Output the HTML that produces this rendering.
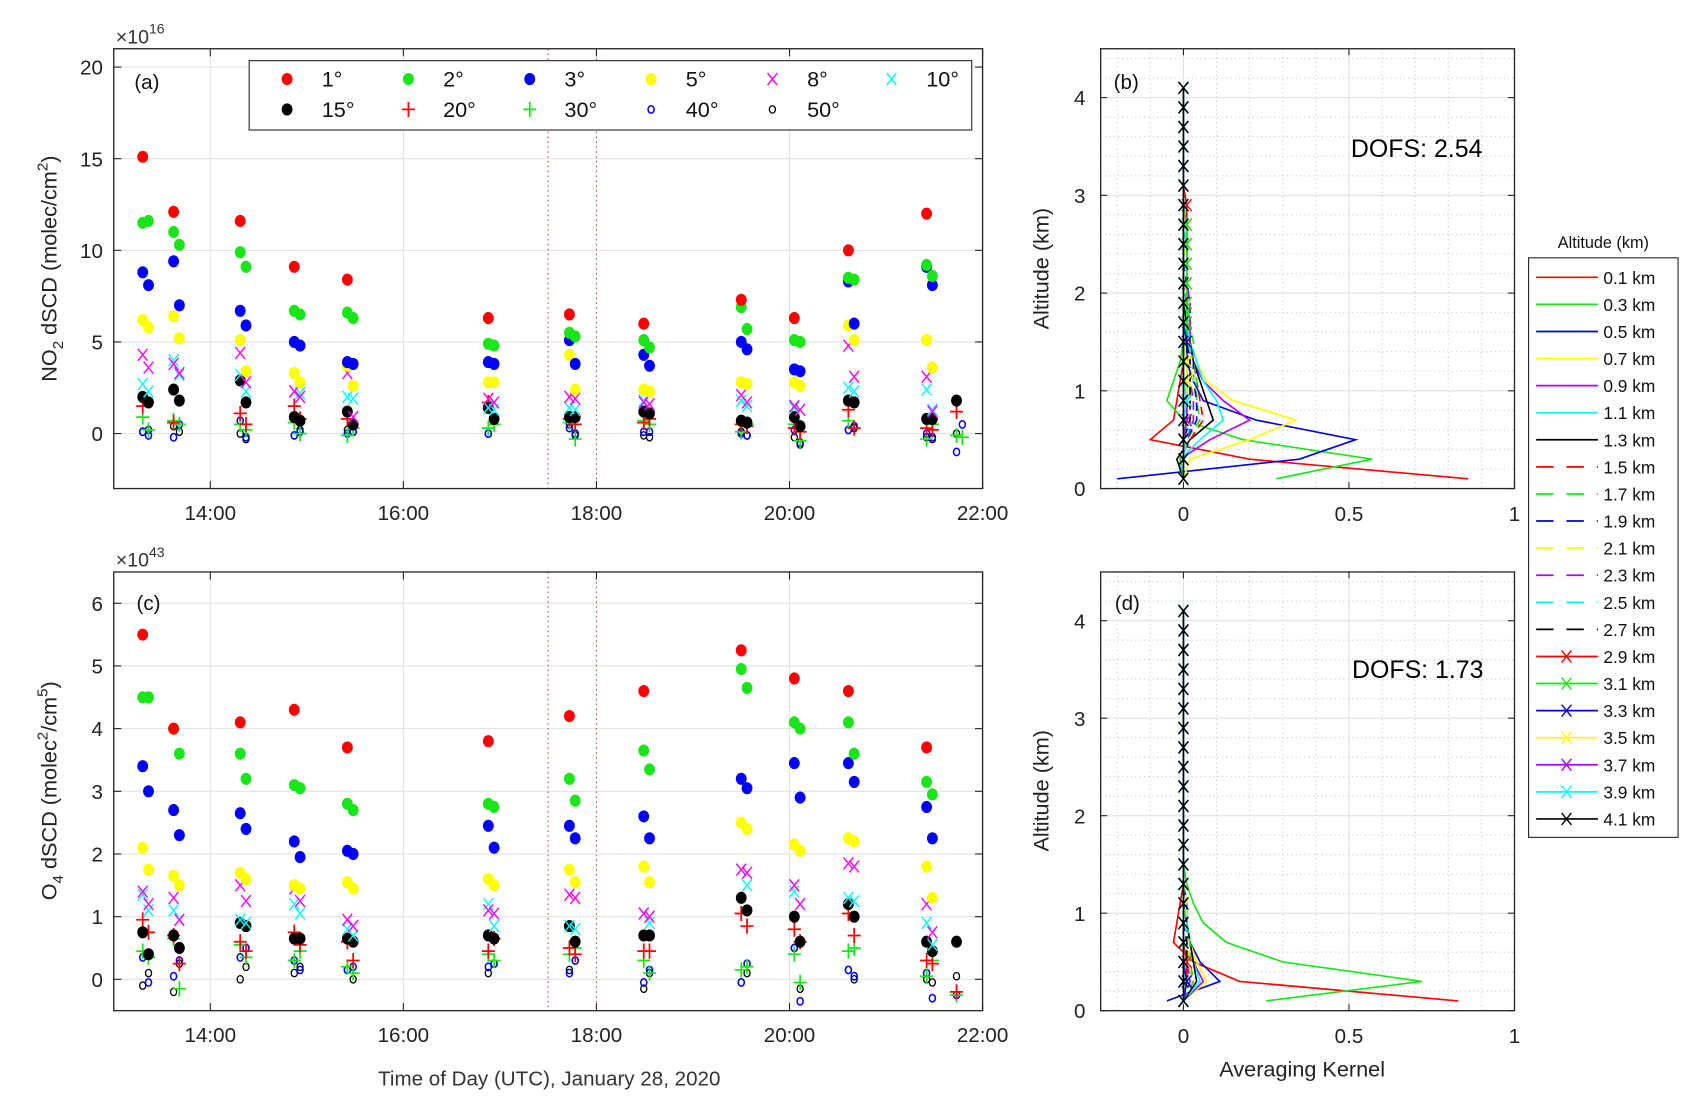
<!DOCTYPE html>
<html><head><meta charset="utf-8"><style>
html,body{margin:0;padding:0;background:#fff;}
svg{display:block;font-family:"Liberation Sans",sans-serif;}
</style></head><body>
<svg id="fig" width="1690" height="1106" viewBox="0 0 1560 1021" preserveAspectRatio="none" xmlns="http://www.w3.org/2000/svg"></svg>
<script>
// ---------- DATA ----------
const scanTimes=[13.33,13.65,14.34,14.90,15.45,16.91,17.75,18.52,19.53,20.08,20.64,21.45,21.76];
const passOffsetHours=[-0.03,0.03];
const angleLabels=['1°','2°','3°','5°','8°','10°','15°','20°','30°','40°','50°'];
// NO2 dSCD (x1e16), two passes per scan
const no2_1=[[15.1,null],[12.1,null],[11.6,null],[9.1,null],[8.4,null],[6.3,null],[6.5,null],[6.0,null],[7.3,null],[6.3,null],[10.0,null],[12.0,null],[null,null]];
const no2_2=[[11.5,11.6],[11.0,10.3],[9.9,9.1],[6.7,6.5],[6.6,6.3],[4.9,4.8],[5.5,5.3],[5.1,4.7],[6.9,5.7],[5.1,5.0],[8.5,8.4],[9.2,8.6],[null,null]];
const no2_3=[[8.8,8.1],[9.4,7.0],[6.7,5.9],[5.0,4.8],[3.9,3.8],[3.9,3.8],[5.1,3.8],[4.3,3.7],[5.0,4.6],[3.5,3.4],[8.3,6.0],[9.1,8.1],[null,null]];
const no2_5=[[6.2,5.8],[6.4,5.2],[5.1,3.4],[3.3,2.8],[3.7,2.6],[2.8,2.8],[4.3,2.4],[2.4,2.3],[2.8,2.7],[2.8,2.6],[5.9,5.1],[5.1,3.6],[null,null]];
const no2_8=[[4.3,3.6],[3.8,3.3],[4.4,2.8],[2.3,2.0],[3.3,0.9],[1.9,1.7],[2.0,1.9],[1.7,1.6],[2.1,1.7],[1.5,1.3],[4.8,3.1],[3.1,1.2],[null,null]];
const no2_10=[[2.7,2.3],[4.0,3.2],[3.2,2.3],[2.3,2.2],[2.0,1.9],[1.4,1.3],[1.4,1.3],[1.8,1.6],[1.8,1.5],[1.4,1.3],[2.5,2.3],[2.4,1.3],[null,null]];
const no2_15=[[2.0,1.7],[2.4,1.8],[2.9,1.7],[0.9,0.7],[1.2,0.5],[1.4,0.8],[0.9,0.9],[1.2,1.1],[0.7,0.6],[0.9,0.4],[1.8,1.7],[0.8,0.8],[1.8,null]];
const no2_20=[[1.5,null],[0.6,null],[1.1,0.5],[1.5,0.8],[0.8,null],[1.7,null],[0.8,0.5],[0.6,0.8],[0.5,0.4],[0.3,0.1],[1.3,0.3],[0.3,0.2],[1.2,null]];
const no2_30=[[0.9,0.2],[0.7,0.5],[0.5,0.2],[0.6,0.0],[-0.1,0.3],[0.3,0.5],[0.6,-0.3],[0.7,0.5],[0.1,0.5],[0.5,-0.4],[0.7,null],[-0.3,0.5],[-0.1,-0.2]];
const no2_40=[[0.1,-0.1],[-0.2,0.5],[0.7,-0.2],[-0.1,0.1],[0.0,0.1],[0.0,0.9],[0.3,0.0],[0.1,0.1],[0.0,-0.1],[0.2,-0.5],[0.2,0.4],[0.0,-0.2],[-1.0,0.5]];
const no2_50=[[0.1,0.2],[0.4,0.1],[0.0,-0.3],[-0.1,0.2],[0.2,0.1],[0.0,0.8],[0.5,-0.1],[-0.1,-0.2],[0.1,-0.1],[-0.2,-0.6],[0.2,0.3],[-0.2,-0.3],[0.0,null]];
// O4 dSCD (x1e43)
const o4_1=[[5.5,null],[4.0,null],[4.1,null],[4.3,null],[3.7,null],[3.8,null],[4.2,null],[4.6,null],[5.25,null],[4.8,null],[4.6,null],[3.7,null],[null,null]];
const o4_2=[[4.5,4.5],[4.0,3.6],[3.6,3.2],[3.1,3.05],[2.8,2.7],[2.8,2.75],[3.2,2.85],[3.65,3.35],[4.95,4.65],[4.1,4.0],[4.1,3.6],[3.15,2.95],[null,null]];
const o4_3=[[3.4,3.0],[2.7,2.3],[2.65,2.4],[2.2,1.95],[2.05,2.0],[2.45,2.1],[2.45,2.25],[2.6,2.25],[3.2,3.05],[3.45,2.9],[3.45,3.15],[2.75,2.25],[null,null]];
const o4_5=[[2.1,1.75],[1.65,1.5],[1.7,1.6],[1.5,1.45],[1.55,1.45],[1.6,1.5],[1.75,1.55],[1.8,1.55],[2.5,2.4],[2.15,2.05],[2.25,2.2],[1.8,1.3],[null,null]];
const o4_8=[[1.4,1.2],[1.3,0.95],[1.5,1.25],[1.45,1.25],[0.95,0.85],[1.1,1.05],[1.35,1.3],[1.05,1.0],[1.75,1.7],[1.5,1.2],[1.85,1.8],[1.2,0.75],[null,null]];
const o4_10=[[1.35,1.1],[1.1,0.95],[0.95,0.9],[1.2,1.05],[0.8,0.7],[1.2,0.85],[0.85,0.8],[1.05,0.9],[1.75,1.5],[1.4,1.2],[1.3,1.25],[0.9,0.55],[null,null]];
const o4_15=[[0.75,0.4],[0.7,0.5],[0.9,0.85],[0.65,0.65],[0.65,0.6],[0.7,0.65],[0.85,0.6],[0.7,0.7],[1.3,1.1],[1.0,0.6],[1.2,1.0],[0.6,0.45],[0.6,null]];
const o4_20=[[0.95,0.75],[0.7,0.25],[0.6,0.45],[0.75,0.55],[0.6,0.3],[0.45,0.65],[0.5,0.4],[0.45,0.45],[1.05,0.85],[0.8,0.6],[1.05,0.7],[0.3,0.25],[-0.2,null]];
const o4_30=[[0.45,0.35],[0.65,-0.15],[0.55,0.35],[0.3,0.45],[0.2,0.1],[0.4,0.3],[0.4,0.5],[0.3,0.1],[0.15,0.2],[0.4,-0.05],[0.45,0.5],[0.05,0.3],[-0.25,null]];
const o4_40=[[0.35,-0.05],[0.05,0.3],[0.35,0.5],[0.3,0.15],[0.15,0.2],[0.2,0.25],[0.1,0.3],[-0.05,0.15],[-0.05,0.25],[0.5,-0.35],[0.15,0.05],[0.1,-0.3],[-0.25,null]];
const o4_50=[[-0.1,0.1],[-0.2,0.25],[0.0,0.2],[0.1,0.2],[0.15,0.0],[0.1,0.25],[0.15,0.3],[-0.15,0.1],[-0.05,0.1],[0.5,-0.15],[0.15,0.0],[0.0,-0.05],[0.05,null]];
const no2Series=[no2_1,no2_2,no2_3,no2_5,no2_8,no2_10,no2_15,no2_20,no2_30,no2_40,no2_50];
const o4Series=[o4_1,o4_2,o4_3,o4_5,o4_8,o4_10,o4_15,o4_20,o4_30,o4_40,o4_50];
const timeTicks=[14,16,18,20,22];
const timeTickLabels=['14:00','16:00','18:00','20:00','22:00'];
const no2Ticks=[0,5,10,15,20];
const o4Ticks=[0,1,2,3,4,5,6];
const gapLines=[17.5,18.0];

// Averaging kernels: rows = retrieval level, cols = altitude level
const akAltitudes=[0.1,0.3,0.5,0.7,0.9,1.1,1.3,1.5,1.7,1.9,2.1,2.3,2.5,2.7,2.9,3.1,3.3,3.5,3.7,3.9,4.1];
const akLabels=['0.1 km','0.3 km','0.5 km','0.7 km','0.9 km','1.1 km','1.3 km','1.5 km','1.7 km','1.9 km','2.1 km','2.3 km','2.5 km','2.7 km','2.9 km','3.1 km','3.3 km','3.5 km','3.7 km','3.9 km','4.1 km'];
const akB=[
[0.86,0.2,-0.1,-0.03,-0.02,-0.01,0,0,0,0,0,0,0,0,0,0,0,0,0,0,0],
[0.28,0.57,0.18,0.0,-0.05,-0.03,-0.01,0,0,0,0,0,0,0,0,0,0,0,0,0,0],
[-0.2,0.35,0.52,0.22,0.06,0.03,0.01,0,0,0,0,0,0,0,0,0,0,0,0,0,0],
[0.0,0.02,0.2,0.34,0.15,0.07,0.04,0.02,0.01,0,0,0,0,0,0,0,0,0,0,0,0],
[0,-0.01,0.08,0.2,0.12,0.06,0.03,0.02,0.01,0,0,0,0,0,0,0,0,0,0,0,0],
[0,-0.01,0.05,0.12,0.1,0.06,0.04,0.02,0.01,0,0,0,0,0,0,0,0,0,0,0,0],
[0,-0.02,0.02,0.09,0.07,0.05,0.03,0.02,0.01,0,0,0,0,0,0,0,0,0,0,0,0],
[0,-0.01,0.02,0.06,0.05,0.04,0.03,0.02,0.02,0.01,0,0,0,0,0,0,0,0,0,0,0],
[0,-0.01,0.01,0.05,0.04,0.04,0.03,0.03,0.02,0.01,0,0,0,0,0,0,0,0,0,0,0],
[0,0,0.01,0.04,0.04,0.03,0.03,0.02,0.02,0.02,0.01,0,0,0,0,0,0,0,0,0,0],
[0,0,0.01,0.03,0.03,0.03,0.02,0.02,0.02,0.02,0.01,0.01,0,0,0,0,0,0,0,0,0],
[0,0,0.01,0.03,0.03,0.02,0.02,0.02,0.02,0.02,0.01,0.01,0.01,0,0,0,0,0,0,0,0],
[0,0,0.01,0.02,0.02,0.02,0.02,0.02,0.01,0.01,0.01,0.01,0.01,0,0,0,0,0,0,0,0],
[0,0,0,0.02,0.02,0.02,0.02,0.01,0.01,0.01,0.01,0.01,0.01,0.01,0,0,0,0,0,0,0],
[0,0,0,0.01,0.01,0.01,0.01,0.01,0.01,0.01,0.01,0.01,0.01,0.01,0.01,0,0,0,0,0,0],
[0,0,0,0.01,0.01,0.01,0.01,0.01,0.01,0.01,0.01,0.01,0.01,0.01,0,0,0,0,0,0,0],
[0,0,0,0.01,0.01,0.01,0.01,0.01,0,0,0,0,0,0,0,0,0,0,0,0,0],
[0,0,0,0.01,0.01,0.01,0.01,0,0,0,0,0,0,0,0,0,0,0,0,0,0],
[0,0,0,0.01,0.01,0,0,0,0,0,0,0,0,0,0,0,0,0,0,0,0],
[0,0,0,0,0.01,0,0,0,0,0,0,0,0,0,0,0,0,0,0,0,0],
[0,0,0,0,0,0,0,0,0,0,0,0,0,0,0,0,0,0,0,0,0]];
const akD=[
[0.83,0.17,0.03,-0.03,-0.02,-0.01,0,0,0,0,0,0,0,0,0,0,0,0,0,0,0],
[0.25,0.72,0.3,0.13,0.06,0.03,0.01,0,0,0,0,0,0,0,0,0,0,0,0,0,0],
[-0.05,0.11,0.05,0.02,0.01,0.01,0,0,0,0,0,0,0,0,0,0,0,0,0,0,0],
[0,0.07,0.04,0.02,0.01,0,0,0,0,0,0,0,0,0,0,0,0,0,0,0,0],
[0,0.06,0.03,0.02,0.01,0,0,0,0,0,0,0,0,0,0,0,0,0,0,0,0],
[0,0.05,0.03,0.02,0.01,0,0,0,0,0,0,0,0,0,0,0,0,0,0,0,0],
[0,0.04,0.03,0.02,0.01,0,0,0,0,0,0,0,0,0,0,0,0,0,0,0,0],
[0,0.03,0.02,0.02,0.01,0.01,0,0,0,0,0,0,0,0,0,0,0,0,0,0,0],
[0,0.03,0.02,0.02,0.01,0.01,0,0,0,0,0,0,0,0,0,0,0,0,0,0,0],
[0,0.02,0.02,0.01,0.01,0.01,0,0,0,0,0,0,0,0,0,0,0,0,0,0,0],
[0,0.02,0.02,0.01,0.01,0.01,0,0,0,0,0,0,0,0,0,0,0,0,0,0,0],
[0,0.02,0.01,0.01,0.01,0,0,0,0,0,0,0,0,0,0,0,0,0,0,0,0],
[0,0.01,0.01,0.01,0.01,0,0,0,0,0,0,0,0,0,0,0,0,0,0,0,0],
[0,0.01,0.01,0.01,0,0,0,0,0,0,0,0,0,0,0,0,0,0,0,0,0],
[0,0.01,0.01,0,0,0,0,0,0,0,0,0,0,0,0,0,0,0,0,0,0],
[0,0.01,0,0,0,0,0,0,0,0,0,0,0,0,0,0,0,0,0,0,0],
[0,0.01,0,0,0,0,0,0,0,0,0,0,0,0,0,0,0,0,0,0,0],
[0,0,0,0,0,0,0,0,0,0,0,0,0,0,0,0,0,0,0,0,0],
[0,0,0,0,0,0,0,0,0,0,0,0,0,0,0,0,0,0,0,0,0],
[0,0,0,0,0,0,0,0,0,0,0,0,0,0,0,0,0,0,0,0,0],
[0,0,0,0,0,0,0,0,0,0,0,0,0,0,0,0,0,0,0,0,0]];
const akXTicks=[0,0.5,1];
const akXTickLabels=['0','0.5','1'];
const akYTicks=[0,1,2,3,4];

// ---------- STYLE ----------
const NS='http://www.w3.org/2000/svg';
const svg=document.getElementById('fig');
const angleStyle=[
 {m:'dot',c:'#ff0000'},{m:'dot',c:'#19e619'},{m:'dot',c:'#0000ff'},{m:'dot',c:'#ffff00'},
 {m:'x',c:'#ff00ff'},{m:'x',c:'#00ffff'},{m:'dot',c:'#000000'},{m:'plus',c:'#ff0000'},
 {m:'plus',c:'#19e619'},{m:'ring',c:'#0000ff'},{m:'ring2',c:'#000000'}];
const lineColors=['#ff0000','#19e619','#0000e0','#ffff00','#b000ff','#00ffff','#000000'];

function mk(tag,attrs,parent){const e=document.createElementNS(NS,tag);for(const k in attrs)e.setAttribute(k,attrs[k]);(parent||svg).appendChild(e);return e;}
function txt(s,attrs,parent){const e=mk('text',attrs,parent);e.textContent=s;return e;}

function axis(x0,x1,y0,y1,xmin,xmax,ymin,ymax){
 return {x0,x1,y0,y1,sx:v=>x0+(v-xmin)/(xmax-xmin)*(x1-x0),sy:v=>y1-(v-ymin)/(ymax-ymin)*(y1-y0)};
}
function marker(g,type,c,x,y){
 if(type==='dot'){return mk('ellipse',{cx:x,cy:y,rx:5,ry:5.6,fill:c},g);}
 if(type==='ring'){return mk('ellipse',{cx:x,cy:y,rx:2.8,ry:3.4,fill:'none',stroke:c,'stroke-width':1.4},g);}
 if(type==='ring2'){return mk('ellipse',{cx:x,cy:y,rx:2.8,ry:3.4,fill:'none',stroke:c,'stroke-width':1.2},g);}
 if(type==='x'){return mk('path',{d:`M${x-4.5} ${y-5.5}L${x+4.5} ${y+5.5}M${x-4.5} ${y+5.5}L${x+4.5} ${y-5.5}`,stroke:c,'stroke-width':1.3,fill:'none'},g);}
 if(type==='plus'){return mk('path',{d:`M${x-6} ${y}L${x+6} ${y}M${x} ${y-7}L${x} ${y+7}`,stroke:c,'stroke-width':1.6,fill:'none'},g);}
}

function timePanel(name,ax,ticks,series,clipId){
 const g=mk('g',{});
 
 
 mk('rect',{x:ax.x0,y:ax.y0,width:ax.x1-ax.x0,height:ax.y1-ax.y0,fill:'#fff'},g);
 timeTicks.forEach(t=>{if(t===18)return;mk('line',{x1:ax.sx(t),x2:ax.sx(t),y1:ax.y0,y2:ax.y1,stroke:'#e3e3e3','stroke-width':1},g);});
 ticks.forEach(t=>{mk('line',{x1:ax.x0,x2:ax.x1,y1:ax.sy(t),y2:ax.sy(t),stroke:'#e3e3e3','stroke-width':1},g);});
 gapLines.forEach(t=>{const l=mk('line',{x1:ax.sx(t),x2:ax.sx(t),y1:ax.y0,y2:ax.y1,stroke:'#d04848','stroke-width':1,'stroke-dasharray':'1.5,3'},g);
  
  });
 const cp=mk('clipPath',{id:clipId},g);mk('rect',{x:ax.x0,y:ax.y0,width:ax.x1-ax.x0,height:ax.y1-ax.y0},cp);
 const pg=mk('g',{'clip-path':`url(#${clipId})`},g);
 for(let a=series.length-1;a>=0;a--){
  const sg=mk('g',{},pg);
  
  
  series[a].forEach((pair,si)=>{pair.forEach((v,p)=>{if(v===null)return;
   const m=marker(sg,angleStyle[a].m,angleStyle[a].c,ax.sx(scanTimes[si]+passOffsetHours[p]),ax.sy(v));
   
   
  });});
 }
 mk('rect',{x:ax.x0,y:ax.y0,width:ax.x1-ax.x0,height:ax.y1-ax.y0,fill:'none',stroke:'#222','stroke-width':1.2},g);
 timeTicks.forEach((t,i)=>{const x=ax.sx(t);
  mk('line',{x1:x,x2:x,y1:ax.y1,y2:ax.y1-7,stroke:'#222'},g);mk('line',{x1:x,x2:x,y1:ax.y0,y2:ax.y0+7,stroke:'#222'},g);
  const l=txt(timeTickLabels[i],{x:x,y:ax.y1+29,'text-anchor':'middle','font-size':19,fill:'#222'},g);
  
  });
 ticks.forEach(t=>{const y=ax.sy(t);
  mk('line',{x1:ax.x0,x2:ax.x0+7,y1:y,y2:y,stroke:'#222'},g);mk('line',{x1:ax.x1,x2:ax.x1-7,y1:y,y2:y,stroke:'#222'},g);
  const l=txt(String(t),{x:ax.x0-10,y:y+7,'text-anchor':'end','font-size':19,fill:'#222'},g);
  
  });
 return g;
}

function akPanel(name,ax,kernels,clipId){
 const g=mk('g',{});
 
 
 mk('rect',{x:ax.x0,y:ax.y0,width:ax.x1-ax.x0,height:ax.y1-ax.y0,fill:'#fff'},g);
 for(let k=-2;k<=10;k++){const v=k/10;if(k%5===0)continue;const x=ax.sx(v);if(x<=ax.x0)continue;
  mk('line',{x1:x,x2:x,y1:ax.y0,y2:ax.y1,stroke:'#c8c8c8','stroke-dasharray':'1,3'},g);}
 for(let k=1;k<=22;k++){const v=k/5;if(k%5===0)continue;const y=ax.sy(v);
  mk('line',{x1:ax.x0,x2:ax.x1,y1:y,y2:y,stroke:'#c8c8c8','stroke-dasharray':'1,3'},g);}
 akXTicks.forEach(t=>mk('line',{x1:ax.sx(t),x2:ax.sx(t),y1:ax.y0,y2:ax.y1,stroke:'#e0e0e0'},g));
 akYTicks.forEach(t=>mk('line',{x1:ax.x0,x2:ax.x1,y1:ax.sy(t),y2:ax.sy(t),stroke:'#e0e0e0'},g));
 const cp=mk('clipPath',{id:clipId},g);mk('rect',{x:ax.x0,y:ax.y0,width:ax.x1-ax.x0,height:ax.y1-ax.y0},cp);
 const pg=mk('g',{'clip-path':`url(#${clipId})`},g);
 kernels.forEach((row,i)=>{
  const c=lineColors[i%7];
  const d=row.map((v,j)=>(j?'L':'M')+ax.sx(v).toFixed(1)+' '+ax.sy(akAltitudes[j]).toFixed(1)).join('');
  const attrs={d:d,fill:'none',stroke:c,'stroke-width':1.5};
  if(i>=7&&i<14)attrs['stroke-dasharray']='8,5';
  const p=mk('path',attrs,pg);
  
  
  if(i>=14){row.forEach((v,j)=>marker(pg,'x',c,ax.sx(v),ax.sy(akAltitudes[j])));}
 });
 mk('rect',{x:ax.x0,y:ax.y0,width:ax.x1-ax.x0,height:ax.y1-ax.y0,fill:'none',stroke:'#222','stroke-width':1.2},g);
 akXTicks.forEach((t,i)=>{const x=ax.sx(t);
  mk('line',{x1:x,x2:x,y1:ax.y1,y2:ax.y1-6,stroke:'#222'},g);mk('line',{x1:x,x2:x,y1:ax.y0,y2:ax.y0+6,stroke:'#222'},g);
  const l=txt(akXTickLabels[i],{x:x,y:ax.y1+30,'text-anchor':'middle','font-size':19,fill:'#222'},g);
  
  });
 akYTicks.forEach(t=>{const y=ax.sy(t);
  mk('line',{x1:ax.x0,x2:ax.x0+6,y1:y,y2:y,stroke:'#222'},g);mk('line',{x1:ax.x1,x2:ax.x1-6,y1:y,y2:y,stroke:'#222'},g);
  const l=txt(String(t),{x:ax.x0-14,y:y+7,'text-anchor':'end','font-size':19,fill:'#222'},g);
  
  });
 return g;
}

// ---------- PANELS ----------
const axA=axis(105,907,45,451,13,22,-3,21);
const axC=axis(105,907,528,933,13,22,-0.5,6.5);
const axB=axis(1016,1398,45,451,-0.25,1,0,4.5);
const axD=axis(1016,1398,528,933,-0.25,1,0,4.5);
timePanel('no2-panel',axA,no2Ticks,no2Series,'clipA');
timePanel('o4-panel',axC,o4Ticks,o4Series,'clipC');
akPanel('ak-panel-b',axB,akB,'clipB');
akPanel('ak-panel-d',axD,akD,'clipD');

// Labels
function label(s,attrs,name){const t=txt(s,attrs);return t;}
label('(a)',{x:124,y:82,'font-size':19,fill:'#111'},'panel-a-label');
label('(c)',{x:126,y:563,'font-size':19,fill:'#111'},'panel-c-label');
label('(b)',{x:1028,y:82,'font-size':19,fill:'#111'},'panel-b-label');
label('(d)',{x:1029,y:563,'font-size':19,fill:'#111'},'panel-d-label');
label('DOFS: 2.54',{x:1247,y:145,'font-size':23,fill:'#000'},'dofs-b');
label('DOFS: 1.73',{x:1248,y:626,'font-size':23,fill:'#000'},'dofs-d');
const e1=label('×10',{x:107,y:40,'font-size':18,fill:'#333'},'no2-exponent');
const s1=mk('tspan',{dy:-9,'font-size':13},e1);s1.textContent='16';
const e2=label('×10',{x:107,y:523,'font-size':18,fill:'#333'},'o4-exponent');
const s2=mk('tspan',{dy:-9,'font-size':13},e2);s2.textContent='43';
const yA=label('NO',{transform:'translate(52,248) rotate(-90)','text-anchor':'middle','font-size':20,fill:'#222'},'no2-y-axis-title');
mk('tspan',{dy:6,'font-size':14},yA).textContent='2';
mk('tspan',{dy:-6},yA).textContent=' dSCD (molec/cm';
mk('tspan',{dy:-8,'font-size':14},yA).textContent='2';
mk('tspan',{dy:8},yA).textContent=')';
const yC=label('O',{transform:'translate(52,730) rotate(-90)','text-anchor':'middle','font-size':20,fill:'#222'},'o4-y-axis-title');
mk('tspan',{dy:6,'font-size':14},yC).textContent='4';
mk('tspan',{dy:-6},yC).textContent=' dSCD (molec';
mk('tspan',{dy:-8,'font-size':14},yC).textContent='2';
mk('tspan',{dy:8},yC).textContent='/cm';
mk('tspan',{dy:-8,'font-size':14},yC).textContent='5';
mk('tspan',{dy:8},yC).textContent=')';
label('Time of Day (UTC), January 28, 2020',{x:507,y:1002,'text-anchor':'middle','font-size':19,fill:'#333'},'x-axis-title');
label('Averaging Kernel',{x:1202,y:994,'text-anchor':'middle','font-size':20,fill:'#222'},'ak-x-axis-title');
label('Altitude (km)',{transform:'translate(968,248) rotate(-90)','text-anchor':'middle','font-size':20,fill:'#222'},'ak-b-y-axis-title');
label('Altitude (km)',{transform:'translate(968,730) rotate(-90)','text-anchor':'middle','font-size':20,fill:'#222'},'ak-d-y-axis-title');

// Legend (a)
const lg=mk('g',{});


mk('rect',{x:230,y:56,width:667,height:64,fill:'#fff',stroke:'#222','stroke-width':1},lg);
const legCols=[265,377,489,601,713,823];
angleLabels.forEach((s,i)=>{const col=i%6,row=Math.floor(i/6);const x=legCols[col],y=row?101:73;
 const eg=mk('g',{},lg);
 
 
 marker(eg,angleStyle[i].m,angleStyle[i].c,x,y);
 txt(s,{x:x+32,y:y+7,'font-size':20,fill:'#111'},eg);});

// Legend (b)
const lb=mk('g',{});


txt('Altitude (km)',{x:1480,y:229,'text-anchor':'middle','font-size':15,fill:'#111'},lb);
mk('rect',{x:1411,y:238,width:138,height:535,fill:'#fff',stroke:'#222','stroke-width':1},lb);
akLabels.forEach((s,i)=>{const y=256+i*25;const c=lineColors[i%7];
 const eg=mk('g',{},lb);
 
 
 const a={x1:1418,x2:1475,y1:y,y2:y,stroke:c,'stroke-width':1.6};
 if(i>=7&&i<14){a['stroke-dasharray']='16,12';}
 mk('line',a,eg);
 if(i>=14)marker(eg,'x',c,1446,y);
 txt(s,{x:1480,y:y+6,'font-size':16,fill:'#111'},eg);});
</script>
</body></html>
